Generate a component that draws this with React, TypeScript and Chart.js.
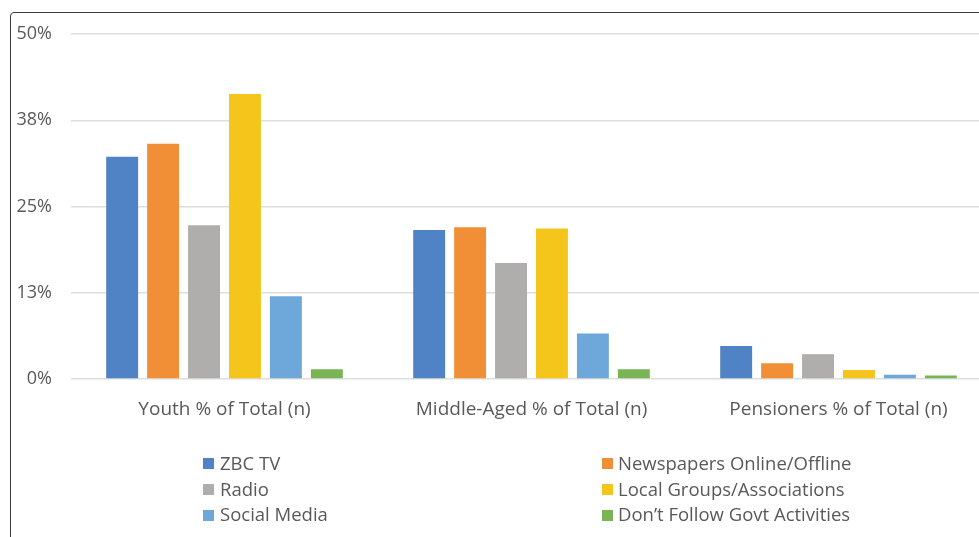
import React, { useEffect, useRef } from "react";
import { Chart, registerables } from "chart.js";

Chart.register(...registerables);

const categories = [
  "Youth % of Total (n)",
  "Middle-Aged % of Total (n)",
  "Pensioners % of Total (n)",
];

const zbcTv = [32.2, 21.6, 4.8];
const newspapers = [34.1, 22.0, 2.3];
const radio = [22.3, 16.8, 3.6];
const localGroups = [41.3, 21.8, 1.3];
const socialMedia = [12.0, 6.6, 0.6];
const dontFollow = [1.4, 1.4, 0.5];

const seriesNames = [
  "ZBC TV",
  "Newspapers Online/Offline",
  "Radio",
  "Local Groups/Associations",
  "Social Media",
  "Don’t Follow Govt Activities",
];

const seriesColors = ["#5083C5", "#F08F36", "#AFAEAC", "#F4C51A", "#6EA8DA", "#79B455"];

const yTickValues = [0, 12.5, 25, 37.5, 50];
const yTickLabels = ["0%", "13%", "25%", "38%", "50%"];

const FONT = "'Open Sans', 'Noto Sans', sans-serif";
const TEXT = "#595959";

export default function App() {
  const ref = useRef<HTMLCanvasElement>(null);

  useEffect(() => {
    const seriesValues = [zbcTv, newspapers, radio, localGroups, socialMedia, dontFollow];
    const chart = new Chart(ref.current as HTMLCanvasElement, {
      type: "bar",
      data: {
        labels: categories,
        datasets: seriesNames.map((name, i) => ({
          label: name,
          data: seriesValues[i],
          backgroundColor: seriesColors[i],
          borderWidth: 0,
          categoryPercentage: 0.8,
          barPercentage: 0.78,
        })),
      },
      options: {
        animation: false,
        responsive: false,
        devicePixelRatio: 1,
        layout: { padding: { left: 0, right: 8, top: 34, bottom: 118 } },
        plugins: { legend: { display: false }, tooltip: { enabled: false } },
        scales: {
          x: {
            grid: { display: false, drawTicks: false },
            border: { display: false },
            ticks: {
              font: { family: FONT, size: 19 },
              color: TEXT,
              padding: 19,
              maxRotation: 0,
              autoSkip: false,
            },
            afterFit: (s: any) => {
              s.height = 40;
            },
          },
          y: {
            min: 0,
            max: 50,
            afterBuildTicks: (s: any) => {
              s.ticks = yTickValues.map((v) => ({ value: v }));
            },
            ticks: {
              font: { family: FONT, size: 18 },
              color: TEXT,
              padding: 19,
              callback: (_v: any, i: number) => yTickLabels[i],
            },
            grid: { color: "#DEDEDE", lineWidth: 1.5, drawTicks: false },
            border: { display: false },
            afterFit: (s: any) => {
              s.width = 71;
            },
          },
        },
      },
    });
    return () => chart.destroy();
  }, []);

  const rowCenters = [463.5, 489.3, 515];
  const squareLeft = [203, 602];
  const textLeft = [220, 618];

  return (
    <div
      style={{
        position: "fixed",
        left: 0,
        top: 0,
        width: 979,
        height: 537,
        overflow: "hidden",
        background: "#fff",
      }}
    >
      <div
        style={{
          position: "absolute",
          left: 10,
          top: 12,
          width: 1200,
          height: 800,
          border: "1.5px solid #3a3a3a",
          borderTopLeftRadius: 4,
          boxSizing: "border-box",
        }}
      />
      <canvas
        ref={ref}
        width={1000}
        height={537}
        style={{ position: "absolute", left: 0, top: 0, width: 1000, height: 537, display: "block" }}
      />
      {seriesNames.map((name, i) => {
        const row = Math.floor(i / 2);
        const col = i % 2;
        const cy = rowCenters[row];
        return (
          <React.Fragment key={name}>
            <div
              style={{
                position: "absolute",
                left: squareLeft[col],
                top: cy - 5.5,
                width: 11,
                height: 11,
                background: seriesColors[i],
              }}
            />
            <div
              style={{
                position: "absolute",
                left: textLeft[col],
                top: cy - 10.8,
                lineHeight: "20px",
                fontSize: 18.5,
                fontFamily: FONT,
                color: TEXT,
                whiteSpace: "nowrap",
              }}
            >
              {name}
            </div>
          </React.Fragment>
        );
      })}
    </div>
  );
}
